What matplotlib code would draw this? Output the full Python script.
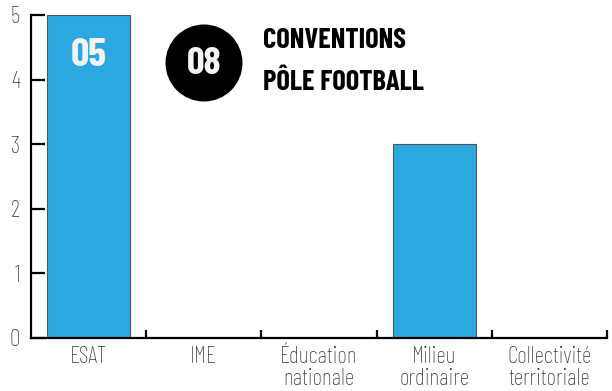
import matplotlib.pyplot as plt
from matplotlib.patches import Ellipse

categories = ['ESAT', 'IME', 'Éducation\nnationale', 'Milieu\nordinaire', 'Collectivité\nterritoriale']
values = [5, 0, 0, 3, 0]
total = '08'
bar_label = '05'

plt.rcParams['font.family'] = ['Barlow Condensed', 'DejaVu Sans']

fig = plt.figure(figsize=(6.12, 3.91), dpi=100)
ax = fig.add_axes([31/612, 53/391, 576/612, 323/391])

x = range(len(categories))
ax.bar(x, values, width=0.72, color='#2BA8E0', edgecolor='#555555', linewidth=0.8, zorder=2)
ax.set_xlim(-0.5, len(categories) - 0.5)
ax.set_ylim(0, 5)

for s in ['top', 'right']:
    ax.spines[s].set_visible(False)
for s in ['left', 'bottom']:
    ax.spines[s].set_linewidth(1.6)
    ax.spines[s].set_zorder(3)

ax.set_yticks(range(6))
ax.tick_params(axis='y', direction='in', length=10, width=1.6, labelsize=17,
               labelcolor='#333333', pad=8)
for lab in ax.get_yticklabels():
    lab.set_fontweight('light')
ax.set_xticks([i + 0.5 for i in x])
ax.set_xticklabels([])
ax.tick_params(axis='x', direction='in', length=6, width=1.6)
for i, c in enumerate(categories):
    ax.text(i, -0.13, c, ha='center', va='top', fontsize=17, color='#333333',
            fontweight='light', linespacing=0.95)

ax.text(0, 4.38, bar_label, ha='center', va='center', fontsize=29,
        fontweight='bold', color='#f4f4f4', zorder=4)

circ = Ellipse((204/612, 1 - 63/391), 77/612, 77/391, transform=fig.transFigure,
               facecolor='black', edgecolor='none', zorder=5)
fig.patches.append(circ)
fig.text(204/612, 1 - 64/391, total, ha='center', va='center', fontsize=28,
         fontweight='bold', color='#f4f4f4', zorder=6)
fig.text(263/612, 1 - 41/391, 'CONVENTIONS', ha='left', va='center', fontsize=20.5,
         fontweight='bold', color='black')
fig.text(263/612, 1 - 82/391, 'PÔLE FOOTBALL', ha='left', va='center', fontsize=20.5,
         fontweight='bold', color='black')

plt.savefig('out.png', dpi=100)
